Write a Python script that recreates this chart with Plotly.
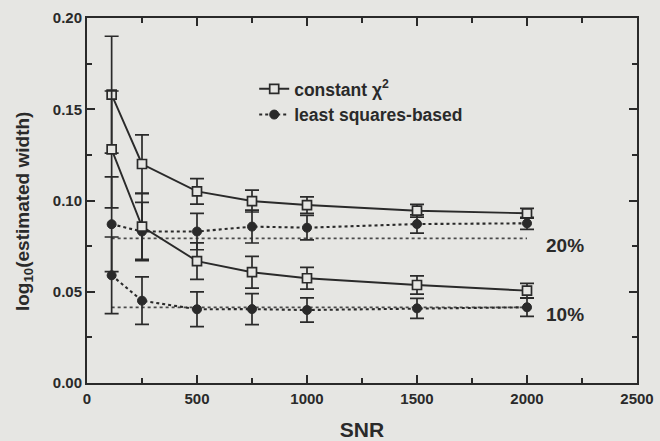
import plotly.graph_objects as go

# ---- data ----
snr = [112, 250, 500, 750, 1000, 1500, 2000]

chi20 = [0.158, 0.120, 0.105, 0.0997, 0.0975, 0.0944, 0.0930]
chi20_err = [0.032, 0.016, 0.007, 0.006, 0.0045, 0.0035, 0.0027]
chi10 = [0.128, 0.0857, 0.0668, 0.0607, 0.0574, 0.0537, 0.0506]
chi10_err = [0.032, 0.018, 0.010, 0.0087, 0.006, 0.005, 0.004]

ls20 = [0.087, 0.083, 0.083, 0.0857, 0.0851, 0.0871, 0.0875]
ls20_err = [0.026, 0.016, 0.010, 0.009, 0.0067, 0.005, 0.0033]
ls10 = [0.059, 0.0451, 0.0404, 0.0405, 0.040, 0.0409, 0.0415]
ls10_err = [0.021, 0.013, 0.0095, 0.0085, 0.0066, 0.0055, 0.005]

true_x = [112, 2000]
true_20 = 0.0792   # log10(1.2)
true_10 = 0.0414   # log10(1.1)
true_labels = ["20%", "10%"]

legend_names = ["constant \u03c7<sup>2</sup>", "least squares-based"]
x_title = "SNR"
y_title = "log<sub>10</sub>(estimated width)"

INK = "#2a2a2a"
BG = "#e6e6e3"
FONT = "Liberation Sans, Arial, sans-serif"

fig = go.Figure()

# reference (true) lines
for yv in (true_20, true_10):
    fig.add_trace(go.Scatter(
        x=true_x, y=[yv, yv], mode="lines",
        line=dict(color="#4a4a4a", width=1.7, dash="dot"),
        showlegend=False, hoverinfo="skip"))

def err(a):
    return dict(type="data", array=a, visible=True, color=INK, thickness=1.7, width=7)

# least squares-based series
for i, (y, e) in enumerate(((ls20, ls20_err), (ls10, ls10_err))):
    fig.add_trace(go.Scatter(
        x=snr, y=y, error_y=err(e), mode="lines+markers",
        name=legend_names[1], showlegend=(i == 0), legendrank=2,
        line=dict(color=INK, width=2.1, dash="dot"),
        marker=dict(symbol="circle", size=9, color=INK, line=dict(color=INK, width=1))))

# constant chi^2 series
for i, (y, e) in enumerate(((chi20, chi20_err), (chi10, chi10_err))):
    fig.add_trace(go.Scatter(
        x=snr, y=y, error_y=err(e), mode="lines+markers",
        name=legend_names[0], showlegend=(i == 0), legendrank=1,
        line=dict(color=INK, width=1.9),
        marker=dict(symbol="square", size=9, color=BG, line=dict(color=INK, width=1.7))))

# percentage labels
for lab, yv in zip(true_labels, (true_20 - 0.0037, true_10 - 0.0037)):
    fig.add_annotation(x=2075, y=yv, text=lab, showarrow=False, xanchor="left",
                       font=dict(size=19, color=INK, family=FONT, weight="bold"))

# y-axis title (placed as a rotated annotation to match the reference position)
fig.add_annotation(x=-0.1145, y=0.471, xref="paper", yref="paper", text=y_title,
                   textangle=-90, showarrow=False, xanchor="center", yanchor="middle",
                   font=dict(size=19, color=INK, family=FONT, weight="bold"))

axis_common = dict(
    showline=True, linecolor=INK, linewidth=2, mirror="ticks",
    ticks="inside", ticklen=8, tickwidth=1.8, tickcolor=INK,
    showgrid=False, zeroline=False, automargin=False,
    tickfont=dict(size=15, color=INK, family=FONT, weight="bold"),
)

fig.update_xaxes(
    range=[0, 2500], tick0=0, dtick=500, ticklabelstandoff=1,
    minor=dict(ticks="inside", ticklen=5, dtick=250, tickcolor=INK, tickwidth=1.6),
    title=dict(text=x_title, font=dict(size=21, color=INK, family=FONT, weight="bold"), standoff=19),
    **axis_common)
fig.update_yaxes(
    range=[0, 0.2], tick0=0, dtick=0.05, tickformat=".2f",
    minor=dict(ticks="inside", ticklen=5, dtick=0.025, tickcolor=INK, tickwidth=1.6),
    **axis_common)

fig.update_layout(
    width=660, height=441,
    margin=dict(l=87, r=23, t=18, b=58),
    paper_bgcolor=BG, plot_bgcolor=BG,
    font=dict(family=FONT, color=INK),
    legend=dict(x=0.304, y=0.855, xanchor="left", yanchor="top",
                bgcolor="rgba(0,0,0,0)",
                font=dict(size=17.5, color=INK, family=FONT, weight="bold"),
                traceorder="normal"),
)

fig.write_html("out.html")
